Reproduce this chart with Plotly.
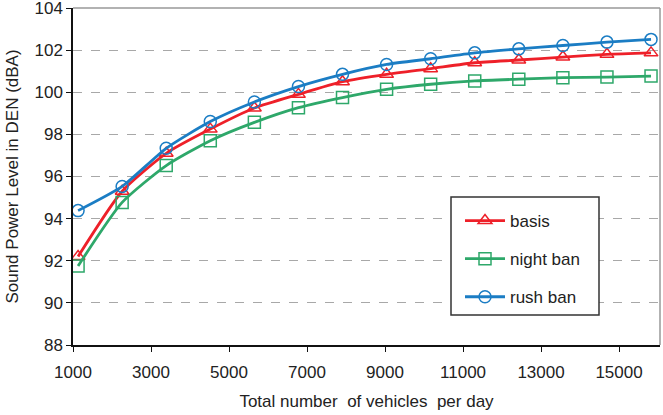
import plotly.graph_objects as go

vehicles = [1130, 2260, 3390, 4520, 5650, 6780, 7910, 9040, 10170, 11300, 12430, 13560, 14690, 15820]
basis = [92.2, 95.3, 97.1, 98.25, 99.25, 99.9, 100.5, 100.85, 101.12, 101.4, 101.53, 101.67, 101.8, 101.87]
night_ban = [91.75, 94.77, 96.52, 97.7, 98.57, 99.27, 99.75, 100.14, 100.38, 100.54, 100.62, 100.69, 100.72, 100.77]
rush_ban = [94.38, 95.53, 97.34, 98.61, 99.54, 100.27, 100.85, 101.32, 101.59, 101.87, 102.06, 102.22, 102.38, 102.51]
x_ticks = [1000, 3000, 5000, 7000, 9000, 11000, 13000, 15000]
y_ticks = [88, 90, 92, 94, 96, 98, 100, 102, 104]

series = [
    ("basis", basis, "#EE2029", "triangle-up-open"),
    ("night ban", night_ban, "#2EA86A", "square-open"),
    ("rush ban", rush_ban, "#1B7DC4", "circle-open"),
]

FONT = "Liberation Sans, Arial, sans-serif"
TXT = "#222222"
T, B, L, R = 8, 345, 73, 660
W, H = R - L, B - T
fig = go.Figure()
for name, vals, color, sym in series:
    fig.add_trace(go.Scatter(
        x=vehicles, y=vals, name=name, legendgroup=name,
        mode="lines+markers",
        line=dict(color=color, width=2.8, shape="spline", smoothing=0.6),
        marker=dict(symbol=sym, size=12, color=color, line=dict(width=1.5, color=color)),
    ))

fig.update_layout(
    width=663, height=415,
    margin=dict(l=L, r=663 - R, t=T, b=415 - B, autoexpand=False),
    paper_bgcolor="white", plot_bgcolor="white",
    font=dict(family=FONT, size=17, color=TXT),
    showlegend=True,
    legend=dict(
        x=(460 - L) / W, y=1 - (203 - T) / H, xanchor="left", yanchor="top",
        bgcolor="rgba(0,0,0,0)", borderwidth=0,
        font=dict(family=FONT, size=17, color=TXT),
        tracegroupgap=13, itemwidth=40,
    ),
    xaxis=dict(
        range=[1000, 16050], tickvals=x_ticks, ticktext=[str(v) for v in x_ticks],
        showgrid=False, zeroline=False, automargin=False,
        showline=True, linecolor="#111111", linewidth=1.5,
        ticks="outside", ticklen=5, tickcolor="#111111", tickwidth=1.2,
        ticklabelstandoff=6, ticklabeloverflow="allow",
        tickfont=dict(size=17, color=TXT),
        title=dict(text="Total number  of vehicles  per day", font=dict(size=17, color=TXT), standoff=14),
    ),
    yaxis=dict(
        range=[88, 104], tickvals=y_ticks, ticktext=[str(v) for v in y_ticks],
        showgrid=True, gridcolor="#A8A8A8", griddash="dash", gridwidth=1,
        zeroline=False, automargin=False,
        showline=True, linecolor="#111111", linewidth=1.5,
        ticks="outside", ticklen=5, tickcolor="#111111", tickwidth=1.2,
        ticklabeloverflow="allow",
        tickfont=dict(size=17, color=TXT),
        title=dict(text="Sound Power Level in DEN (dBA)", font=dict(size=17, color=TXT), standoff=12),
    ),
)

fig.add_shape(type="line", xref="paper", yref="paper", x0=0, x1=1, y0=1, y1=1,
              line=dict(color="#999999", width=1.5))
fig.add_shape(type="line", xref="paper", yref="paper", x0=1, x1=1, y0=0, y1=1,
              line=dict(color="#999999", width=1.5))
# legend frame
fig.add_shape(type="rect", xref="paper", yref="paper", layer="above",
              x0=(451 - L) / W, x1=(599 - L) / W,
              y0=1 - (315 - T) / H, y1=1 - (197 - T) / H,
              fillcolor="white", line=dict(color="#333333", width=1.5))

fig.write_html("out.html")
